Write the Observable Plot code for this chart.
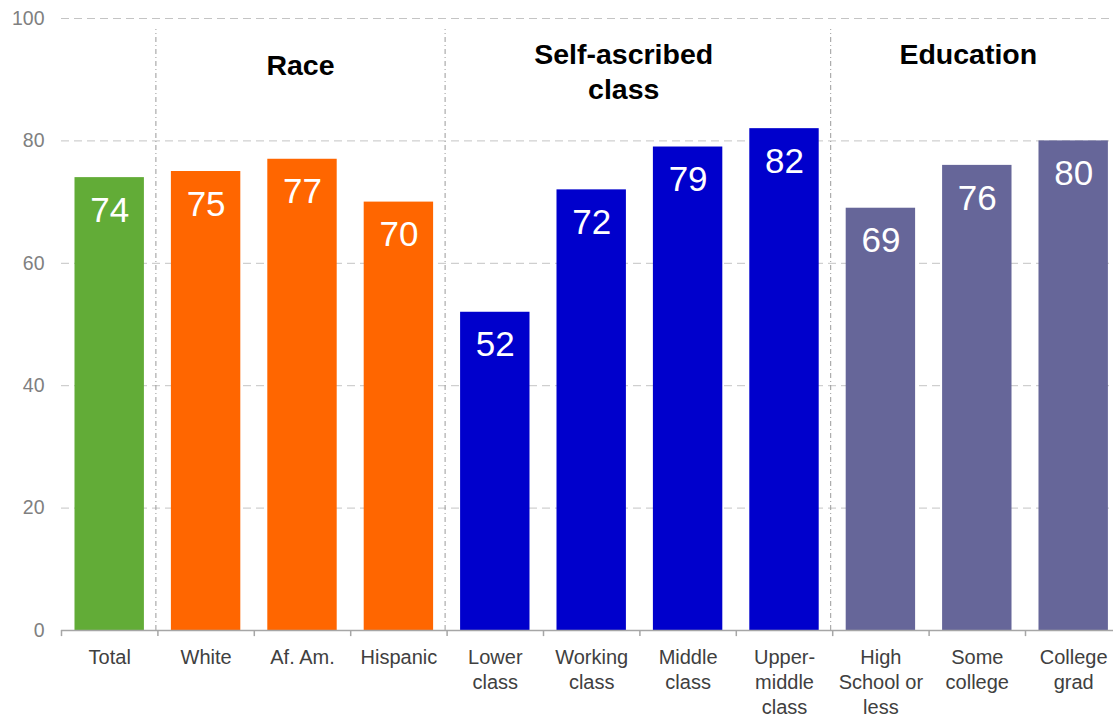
<!DOCTYPE html>
<html>
<head>
<meta charset="utf-8">
<script src="https://cdn.jsdelivr.net/npm/d3@7"></script>
<script src="https://cdn.jsdelivr.net/npm/@observablehq/plot@0.6"></script>
<style>
  html, body { margin: 0; padding: 0; background: #ffffff; }
  #chart svg { display: block; }
</style>
</head>
<body>
<div id="chart"></div>
<script>
const categories = ["Total", "White", "Af. Am.", "Hispanic", "Lower class", "Working class", "Middle class", "Upper-middle class", "High School or less", "Some college", "College grad"];
const tickLabels = ["Total", "White", "Af. Am.", "Hispanic", "Lower\nclass", "Working\nclass", "Middle\nclass", "Upper-\nmiddle\nclass", "High\nSchool or\nless", "Some\ncollege", "College\ngrad"];
const values = [74, 75, 77, 70, 52, 72, 79, 82, 69, 76, 80];
const groups = ["Total", "Race", "Race", "Race", "Class", "Class", "Class", "Class", "Education", "Education", "Education"];
const groupNames = ["Total", "Race", "Class", "Education"];
const groupColors = ["#62ac37", "#ff6600", "#0000cc", "#666699"];
const groupTitles = ["Race", "Self-ascribed\nclass", "Education"];
const groupStarts = ["White", "Lower class", "High School or less"];
const groupAnchors = ["Af. Am.", "Working class", "Some college"];
const yTicks = [0, 20, 40, 60, 80, 100];
const gridTicks = [20, 40, 60, 80, 100];

const data = categories.map((c, i) => ({category: c, value: values[i], group: groups[i], label: tickLabels[i]}));

const W = 1113, H = 719;
const mL = 61, mT = 18, mB = 89;
const step = 96.4;

// per-title placement tweaks (pixel offsets, y in data units)
const titleLayout = [
  {dx: -2, y: 92.7},
  {dx: 32, y: 91.6},
  {dx: -9, y: 94.4}
];

const titleMarks = groupTitles.map((t, i) =>
  Plot.text([t], {
    x: () => groupAnchors[i],
    y: () => titleLayout[i].y,
    text: d => d,
    dx: titleLayout[i].dx,
    fontSize: 28.5,
    fontWeight: "bold",
    fill: "#000000",
    lineHeight: 1.25
  })
);

const chart = Plot.plot({
  width: W,
  height: H,
  marginLeft: mL,
  marginRight: 0,
  marginTop: mT,
  marginBottom: mB,
  style: {fontFamily: "'Liberation Sans', Arial, sans-serif", fontSize: "19px", background: "#ffffff"},
  x: {type: "band", domain: categories, range: [mL, mL + categories.length * step], paddingInner: 0.28, paddingOuter: 0.14, round: false, axis: null},
  y: {domain: [0, 100], axis: null},
  color: {type: "ordinal", domain: groupNames, range: groupColors},
  marks: [
    Plot.ruleY(gridTicks, {y: d => d, stroke: "#c4c4c4", strokeDasharray: "8,5", strokeWidth: 1}),
    Plot.ruleX(groupStarts, {x: d => d, y1: 0, y2: 98.2, dx: -step / 2 - 2, stroke: "#9a9a9a", strokeDasharray: "5,3,1,3", strokeWidth: 1}),
    Plot.barY(data, {x: "category", y: "value", fill: "group"}),
    Plot.ruleY([0], {stroke: "#a6a6a6", strokeWidth: 1.5}),
    Plot.ruleX(categories, {x: d => d, y1: 0, y2: -1, dx: -step / 2, stroke: "#a6a6a6", strokeWidth: 1.5}),
    Plot.text(data, {x: "category", y: "value", text: d => String(d.value), dy: 33, fill: "#ffffff", fontSize: 35}),
    Plot.text(yTicks, {y: d => d, text: d => String(d), frameAnchor: "left", dx: -17, textAnchor: "end", fill: "#808080", fontSize: 19.5}),
    Plot.text(data, {x: "category", text: "label", frameAnchor: "bottom", lineAnchor: "top", dy: 16, fill: "#404040", fontSize: 20, lineHeight: 1.24}),
    ...titleMarks
  ]
});

document.getElementById("chart").appendChild(chart);
</script>
</body>
</html>
